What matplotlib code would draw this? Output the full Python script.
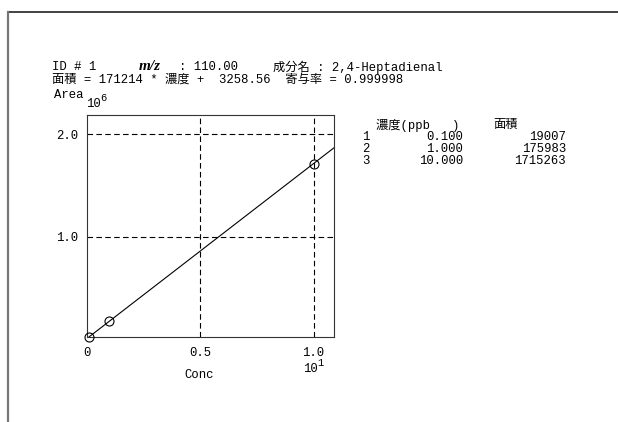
import matplotlib
matplotlib.use("Agg")
import matplotlib.pyplot as plt
from matplotlib.lines import Line2D

W, H = 618, 422

# calibration data (conc in ppb, peak area)
conc = [0.1, 1.0, 10.0]
area = [19007, 175983, 1715263]
slope = 171214
intercept = 3258.56
r2 = 0.999998

x_scale = 10      # axis shows conc / 10^1
y_scale = 1e6     # axis shows area / 10^6
x_ticks = [0, 0.5, 1.0]
x_ticklabels = ["0", "0.5", "1.0"]
y_ticks = [1.0, 2.0]
y_ticklabels = ["1.0", "2.0"]

MONO = ["Liberation Mono", "Noto Sans CJK JP"]
FS = 8.8

fig = plt.figure(figsize=(W / 100, H / 100), dpi=100)


def px(x, y):
    return x / W, 1 - y / H


def label(x, y, s, **kw):
    kw.setdefault("family", MONO)
    kw.setdefault("fontsize", FS)
    kw.setdefault("va", "center")
    fig.text(*px(x, y), s, **kw)


# page frame (top and left edges)
fig.add_artist(Line2D([8 / W, 1], [1 - 12 / H, 1 - 12 / H], color="#222222", lw=1.2))
fig.add_artist(Line2D([8 / W, 8 / W], [0, 1 - 12 / H], color="#777777", lw=1.6))

# header lines
label(52, 67, "ID # 1")
label(139, 67, "m/z", family="Liberation Serif", weight="bold", style="italic", fontsize=11)
label(179, 67, ": 110.00")
label(273, 67, "成分名 : 2,4-Heptadienal")
label(52, 80, "面積 = %d * 濃度 +  %.2f  寄与率 = %.6f" % (slope, intercept, r2))
label(54, 95, "Area")
label(86, 104, "10")
label(100.5, 98, "6", fontsize=7.5)

# plot area
x0, x1, y0, y1 = 86.7, 334, 115, 337
ax = fig.add_axes([x0 / W, 1 - y1 / H, (x1 - x0) / W, (y1 - y0) / H])
ax.set_xlim(0, 1.09)
ax.set_ylim(0.02, 2.19)

xs = [0, 1.09]
ax.plot(xs, [(slope * x * x_scale + intercept) / y_scale for x in xs], color="black", lw=0.8)
ax.plot([c / x_scale for c in conc], [a / y_scale for a in area], "o",
        mfc="none", mec="black", ms=6.5, mew=0.8, clip_on=False, zorder=5)

for v in x_ticks[1:]:
    ax.axvline(v, color="black", lw=0.8, ls=(0, (5, 3)))
for v in y_ticks:
    ax.axhline(v, color="black", lw=0.8, ls=(0, (5, 3)))

ax.set_xticks(x_ticks, x_ticklabels, family=MONO, fontsize=FS)
ax.set_yticks(y_ticks, y_ticklabels, family=MONO, fontsize=FS)
ax.tick_params(length=0)
ax.tick_params(axis="x", pad=7)
ax.tick_params(axis="y", pad=6)
for s in ax.spines.values():
    s.set_linewidth(0.8)
    s.set_color("#333333")

label(310, 369, "10", ha="center")
label(317.5, 363, "1", fontsize=7.5)
label(199, 375, "Conc", ha="center")

# table of calibration levels
label(376, 125, "濃度(ppb   )")
label(493, 125, "面積")
for i, (c, a) in enumerate(zip(conc, area)):
    y = 137 + i * 11.8
    label(362, y, str(i + 1))
    label(463, y, "%.3f" % c, ha="right")
    label(566, y, str(a), ha="right")

fig.savefig("out.png", dpi=100)
